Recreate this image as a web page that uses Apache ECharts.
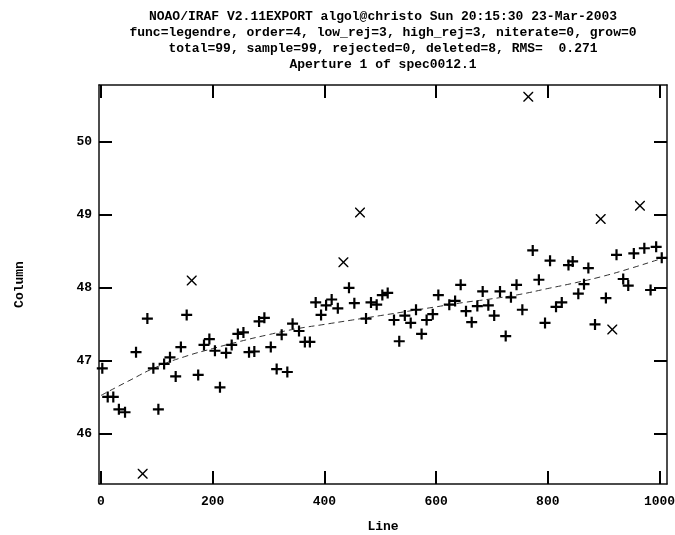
<!DOCTYPE html>
<html><head><meta charset="utf-8">
<script src="https://cdn.jsdelivr.net/npm/echarts@6/dist/echarts.min.js"></script>
<style>html,body{margin:0;padding:0;background:#fff}#c{width:675px;height:535px}</style>
</head><body><div id="c"></div>
<script>
const titleLines = [
  "NOAO/IRAF V2.11EXPORT algol@christo Sun 20:15:30 23-Mar-2003",
  "func=legendre, order=4, low_rej=3, high_rej=3, niterate=0, grow=0",
  "total=99, sample=99, rejected=0, deleted=8, RMS=  0.271",
  "Aperture 1 of spec0012.1"
];
const xName = "Line";
const yName = "Column";
const xTicks = [0, 200, 400, 600, 800, 1000];
const yTicks = [46, 47, 48, 49, 50];

// fitted points (+)
const plusX = [2.3,12,22,32,43,62.7,83,93.7,102.7,113,123.5,133.7,143,153.4,174,184.4,194,204,213,224,
  234,245,255,265,274.5,283,292.5,304,314.5,323.5,333.6,343,354.5,365,374,384.4,394,403,413,424,
  444,453.6,474.5,483.4,493.6,503.7,513.3,524.6,534,544,554.5,564,574,583,594,604,623.6,634,644,653.5,
  663.7,673.8,683.4,693.5,704,714.4,724.6,734,744,754.4,773,784,795,804,814.7,825,837,844.5,854.6,864.8,
  872.6,884.5,904,923,935,944,954,972.8,984,994,1004];
const plusY = [46.90,46.51,46.51,46.34,46.30,47.12,47.58,46.90,46.34,46.96,47.05,46.79,47.19,47.63,46.81,47.22,47.30,47.14,46.64,47.11,
  47.22,47.37,47.39,47.12,47.13,47.54,47.59,47.19,46.89,47.36,46.85,47.51,47.41,47.26,47.26,47.80,47.63,47.76,47.84,47.72,
  48.00,47.79,47.58,47.80,47.77,47.90,47.93,47.56,47.27,47.62,47.52,47.70,47.37,47.56,47.64,47.90,47.77,47.82,48.04,47.68,
  47.53,47.75,47.95,47.76,47.62,47.95,47.34,47.87,48.04,47.70,48.51,48.11,47.52,48.37,47.74,47.80,48.31,48.36,47.92,48.05,
  48.27,47.50,47.86,48.45,48.12,48.03,48.47,48.54,47.97,48.56,48.41];

// deleted points (x)
const delX = [74.6,162.4,434,463.7,765,894.7,915.4,965];
const delY = [45.46,48.10,48.35,49.03,50.61,48.94,47.43,49.12];

// fit curve
const fitX = [0,50,100,150,200,250,300,350,400,450,500,550,600,650,700,750,800,850,900,950,1000,1013];
const fitY = [46.53,46.73,46.92,47.06,47.17,47.27,47.36,47.44,47.50,47.56,47.62,47.68,47.74,47.80,47.85,47.91,47.99,48.07,48.16,48.27,48.39,48.42];

const FONT = "Liberation Mono";
const plusPath = 'path://M4,0H6V4H10V6H6V10H4V6H0V4H4Z';
const xPath = 'path://M0,0L1,0L5,4L9,0L10,0L10,1L6,5L10,9L10,10L9,10L5,6L1,10L0,10L0,9L4,5L0,1Z';

const chart = echarts.init(document.getElementById('c'), null, {renderer: 'canvas'});
const axisLineStyle = {color: '#111', width: 1.5};
function xa(pos, labels) {
  return {
    type: 'value', position: pos, min: -3.6, max: 1013.4,
    axisLine: {show: true, onZero: false, lineStyle: axisLineStyle},
    axisTick: {show: true, inside: true, length: 13, customValues: xTicks, lineStyle: {color: '#000', width: 2}},
    axisLabel: labels ? {show: true, customValues: xTicks, formatter: v => String(v), margin: 11, color: '#000', fontFamily: FONT, fontWeight: 'bold', fontSize: 13} : {show: false},
    splitLine: {show: false},
    name: labels ? xName : '', nameLocation: 'middle', nameGap: 36,
    nameTextStyle: {color: '#000', fontFamily: FONT, fontWeight: 'bold', fontSize: 13}
  };
}
function ya(pos, labels) {
  return {
    type: 'value', position: pos, min: 45.32, max: 50.77,
    axisLine: {show: true, onZero: false, lineStyle: axisLineStyle},
    axisTick: {show: true, inside: true, length: 13, customValues: yTicks, lineStyle: {color: '#000', width: 2}},
    axisLabel: labels ? {show: true, customValues: yTicks, formatter: v => String(v), margin: 7, color: '#000', fontFamily: FONT, fontWeight: 'bold', fontSize: 13} : {show: false},
    splitLine: {show: false},
    name: labels ? yName : '', nameLocation: 'middle', nameGap: 73, nameRotate: 90,
    nameTextStyle: {color: '#000', fontFamily: FONT, fontWeight: 'bold', fontSize: 13}
  };
}

chart.setOption({
  animation: false,
  backgroundColor: '#fff',
  grid: {left: 99, top: 85, right: 8, bottom: 51, containLabel: false, outerBoundsMode: 'none'},
  graphic: titleLines.map((t, i) => ({
    type: 'text', x: 383, y: 17 + i * 16,
    style: {text: t, fill: '#000', font: 'bold 13px "' + FONT + '"', textAlign: 'center', textVerticalAlign: 'middle'}
  })),
  xAxis: [xa('bottom', true), xa('top', false)],
  yAxis: [ya('left', true), ya('right', false)],
  series: [
    {
      type: 'line', xAxisIndex: 0, yAxisIndex: 0,
      data: fitX.map((x, i) => [x, fitY[i]]),
      smooth: true, showSymbol: false, symbol: 'none',
      lineStyle: {color: '#333', width: 1, type: [6, 4]}, z: 2
    },
    {
      type: 'scatter', xAxisIndex: 0, yAxisIndex: 0,
      data: plusX.map((x, i) => [x, plusY[i]]),
      symbol: plusPath, symbolSize: 11,
      itemStyle: {color: '#000', opacity: 1}, z: 3
    },
    {
      type: 'scatter', xAxisIndex: 0, yAxisIndex: 0,
      data: delX.map((x, i) => [x, delY[i]]),
      symbol: xPath, symbolSize: 10,
      itemStyle: {color: '#000', opacity: 1}, z: 3
    }
  ]
});
</script>
</body></html>
